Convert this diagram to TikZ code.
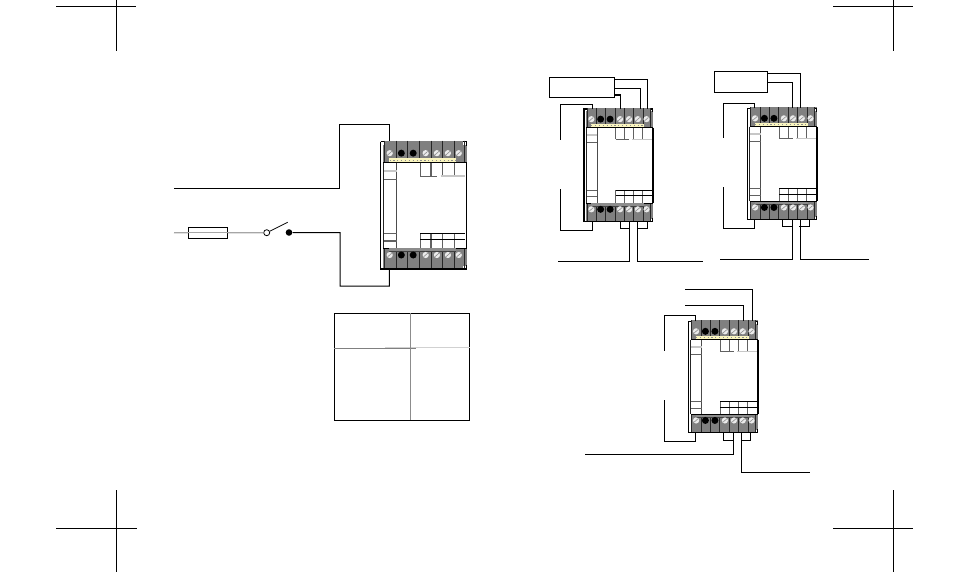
\documentclass[tikz,border=0pt]{standalone}
\definecolor{blockgray}{gray}{0.50}
\definecolor{strip}{RGB}{250,245,190}
\tikzset{
  wire/.style={draw=black,line width=0.75pt},
  thin wire/.style={draw=black,line width=0.6pt},
  soft/.style={draw=black!62,line width=0.8pt},
  pale/.style={draw=black!22,line width=1pt},
  crop/.style={draw=black,line width=0.75pt},
  block/.style={fill=blockgray,draw=none},
  screwlight/.style={fill=white!92!black,draw=none},
  screwdark/.style={fill=black,draw=none},
  modbox/.style={draw=black,line width=0.8pt,fill=white,inner sep=0pt,outer sep=0pt,rectangle,anchor=north west},
  labelbox/.style={draw=black,line width=0.75pt,fill=white,inner sep=0pt,outer sep=0pt,rectangle,anchor=north west},
}
% name, x, y, w, h
\newcommand{\moduleunit}[5]{%
  \node[modbox,minimum width=#4*0.75pt,minimum height=#5*0.75pt] (#1) at (#2,#3) {};
  \begin{scope}[shift={(#2,#3)},x=#4*0.75pt,y=-#5*0.75pt]
    \fill[block] (0.03,-0.008) rectangle (1,0.165);
    \fill[block] (0.03,0.835) rectangle (1,0.995);
    \fill[white] (-0.002,-0.002) rectangle (0.045,0.022);
    \fill[white] (0.96,-0.002) rectangle (1.002,0.022);
    \fill[white] (0.96,0.975) rectangle (1.002,1.002);
    \draw[line width=0.8pt] (0,0)--(0.045,0) (0.96,0)--(1,0)--(1,0.03);
    \draw[line width=0.8pt] (0,0)--(0,1)--(1,1)--(1,0.97);
    \draw[line width=1.4pt] (1,0.165)--(1,0.835);
    \foreach \vx in {0.045,0.18,0.316,0.45,0.587,0.72,0.857,0.97}{
      \draw[line width=0.5pt,black!85] (\vx,-0.008)--(\vx,0.165);
      \draw[line width=0.5pt,black!85] (\vx,0.835)--(\vx,0.995);
    }
    \draw[line width=0.7pt] (0.03,0.165)--(1,0.165) (0.03,0.835)--(1,0.835);
    \fill[strip] (0.10,0.13) rectangle (0.88,0.163);
    \draw[black!45,line width=0.9pt,dotted] (0.105,0.147)--(0.875,0.147);
    \fill[black!45] (0.10,0.837) rectangle (0.88,0.862);
    \draw[black!75,line width=0.5pt] (0.10,0.862)--(0.88,0.862);
    \foreach \sx in {0.107,0.525,0.656,0.784,0.91}{
      \foreach \sy in {0.09,0.89}{
        \fill[screwlight] (\sx,\sy) circle[radius=3.1*0.75pt];
        \draw[black!45,line width=0.45pt] ([xshift=-1.5pt,yshift=-1.3pt]\sx,\sy)--([xshift=1.5pt,yshift=1.3pt]\sx,\sy);
      }
    }
    \foreach \sx in {0.242,0.38}{
      \foreach \sy in {0.09,0.89}{
        \fill[screwdark] (\sx,\sy) circle[radius=3.5*0.75pt];
      }
    }
    \draw[draw=black!70,line width=0.8pt] (0.19,0.165)--(0.19,0.835);
    \draw[pale] (0.03,0.23)--(0.19,0.23);
    \draw[soft] (0.03,0.295)--(0.19,0.295);
    \draw[soft] (0.03,0.72)--(0.19,0.72);
    \draw[soft] (0.03,0.78)--(0.19,0.78);
    \draw[draw=black!85,line width=0.8pt] (0.03,0.165)--(0.03,0.835);
    \foreach \gx in {0.46,0.587,0.722,0.857}{
      \draw[soft] (\gx,0.165)--(\gx,0.27);
      \draw[soft] (\gx,0.72)--(\gx,0.835);
    }
    \draw[soft] (0.46,0.27)--(0.66,0.27);
    \draw[pale] (0.70,0.27)--(0.985,0.27);
    \draw[wire] (0.46,0.72)--(0.985,0.72);
    \draw[wire] (0.46,0.77)--(0.985,0.77);
  \end{scope}
}
\begin{document}
\begin{tikzpicture}[x=0.75pt,y=-0.75pt]
\useasboundingbox (0,0) rectangle (954,572);
% crop marks
\coordinate (c1a) at (56,6.3); \coordinate (c1b) at (136,6.3);
\coordinate (c1c) at (116.3,0); \coordinate (c1d) at (116.3,50.7);
\coordinate (c2a) at (56,528.3); \coordinate (c2b) at (137,528.3);
\coordinate (c2c) at (116.3,490); \coordinate (c2d) at (116.3,572);
\coordinate (c3a) at (833,6.3); \coordinate (c3b) at (913,6.3);
\coordinate (c3c) at (893.3,0); \coordinate (c3d) at (893.3,50.7);
\coordinate (c4a) at (833,528.3); \coordinate (c4b) at (913,528.3);
\coordinate (c4c) at (893.3,490); \coordinate (c4d) at (893.3,572);
\draw[crop] (c1a)--(c1b) (c1c)--(c1d) (c2a)--(c2b) (c2c)--(c2d)
            (c3a)--(c3b) (c3c)--(c3d) (c4a)--(c4b) (c4c)--(c4d);
% modules
\moduleunit{ma}{380.5}{141.7}{86}{127.3}
\moduleunit{mb}{584}{109}{68.7}{112.7}
\moduleunit{mc}{747.7}{108.3}{69}{111.4}
\moduleunit{md}{688.7}{321.3}{69}{111.4}
% module a wiring
\coordinate (a1) at (389.3,141); \coordinate (a2) at (389.3,269);
\coordinate (lineL) at (174,188.3); \coordinate (lineN) at (174,232.7);
\node[labelbox,minimum width=39.4*0.75pt,minimum height=11*0.75pt] (fuse) at (188.3,227.3) {};
\node[circle,draw=black,line width=0.6pt,fill=white,inner sep=0pt,minimum size=6*0.75pt] (swo) at (266.7,232.7) {};
\node[circle,fill=black,inner sep=0pt,minimum size=6.6*0.75pt] (swc) at (289,232.5) {};
\coordinate (blade) at (287.7,222.3);
\draw[draw=black!35,line width=0.9pt] (lineN)--(fuse.west);
\draw[draw=black!35,line width=0.9pt] (fuse.west)--(fuse.east);
\draw[draw=black!35,line width=0.9pt] (fuse.east)--(swo);
\draw[thin wire] (swo)--(blade);
\draw[wire] (a1)--(389.3,124.7)--(339.3,124.7)--(339.3,188.3)--(lineL);
\draw[wire] (a2)--(389.3,286)--(340,286)--(340,232.7)--(swc);
% module b wiring
\node[labelbox,minimum width=65.3*0.75pt,minimum height=20*0.75pt] (bb) at (549,77.3) {};
\coordinate (ba) at (647.7,109); \coordinate (bc) at (640,109); \coordinate (bd) at (620.7,109);
\coordinate (be) at (592.7,109); \coordinate (bf) at (592.7,221.7);
\draw[wire] (bb.north east |- 0,79.3)--(647.7,79.3)--(ba);
\draw[wire] (bb.east |- 0,88.3)--(640,88.3)--(bc);
\draw[wire] (bb.east |- 0,95)--(620.7,95)--(bd);
\draw[line width=1.3pt] (614,95)--(620.7,95);
\draw[wire] (be)--(592.7,104.3)--(560.3,104.3)--(560.3,139.7);
\draw[wire] (560.3,189)--(560.3,230.3)--(592.7,230.3)--(bf);
\coordinate (bg) at (620.7,221.7); \coordinate (bh) at (629.3,221.7);
\coordinate (bi) at (637.3,221.7); \coordinate (bj) at (647.3,221.7);
\draw[wire] (bg)--(620.7,228)--(629.3,228);
\draw[wire] (bh)--(629.3,261.3)--(558,261.3);
\draw[wire] (bj)--(647.3,228)--(637.3,228);
\draw[wire] (bi)--(637.3,261.3)--(703,261.3);
% module c wiring
\node[labelbox,minimum width=53.4*0.75pt,minimum height=21.3*0.75pt] (cb) at (714.3,71) {};
\coordinate (ca) at (800.7,108.3); \coordinate (cc) at (792.3,108.3); \coordinate (ce) at (754.3,108.3);
\coordinate (cf) at (754.3,219.7);
\draw[wire] (cb.east |- 0,73.7)--(800.7,73.7)--(ca);
\draw[wire] (cb.east |- 0,82.3)--(792.3,82.3)--(cc);
\draw[wire] (ce)--(754.3,103)--(723.3,103)--(723.3,137.7);
\draw[wire] (723.3,187)--(723.3,228.3)--(754.3,228.3)--(cf);
\coordinate (cg) at (782.3,219.7); \coordinate (ch) at (792.3,219.7);
\coordinate (ci) at (800,219.7); \coordinate (cj) at (809.3,219.7);
\draw[wire] (cg)--(782.3,226.3)--(792.3,226.3);
\draw[wire] (ch)--(792.3,259)--(720.3,259);
\draw[wire] (cj)--(809.3,226.3)--(799.3,226.3);
\draw[wire] (ci)--(800,259)--(868.7,259);
% module d wiring
\coordinate (da) at (752.3,321.3); \coordinate (dc) at (743.7,321.3); \coordinate (de) at (695.3,321.3);
\coordinate (df) at (695.3,432.7);
\draw[wire] (685,289.3)--(752.3,289.3)--(da);
\draw[wire] (685,305)--(743.7,305)--(dc);
\draw[wire] (de)--(695.3,315.3)--(664.3,315.3)--(664.3,350.7);
\draw[wire] (664.3,400)--(664.3,441.3)--(695.3,441.3)--(df);
\coordinate (dg) at (723.3,432.7); \coordinate (dh) at (733.3,432.7);
\coordinate (di) at (741.7,432.7); \coordinate (dj) at (750.7,432.7);
\draw[wire] (dg)--(723.3,440)--(733.3,440);
\draw[wire] (dh)--(733.3,454)--(585,454);
\draw[wire] (dj)--(750.7,440)--(741.7,440);
\draw[wire] (di)--(741.7,472)--(809.7,472);
% table
\node[labelbox,line width=0.9pt,minimum width=135.4*0.75pt,minimum height=107*0.75pt] (tab) at (334.3,313.3) {};
\draw[draw=black!18,line width=1pt] (385,347.8)--(tab.east |- 0,347.8);
\draw[draw=black!50,line width=0.75pt] (tab.west |- 0,348)--(415.7,348);
\draw[draw=black!45,line width=0.75pt] (410.3,313.3)--(410.3,420.3);
\end{tikzpicture}
\end{document}
